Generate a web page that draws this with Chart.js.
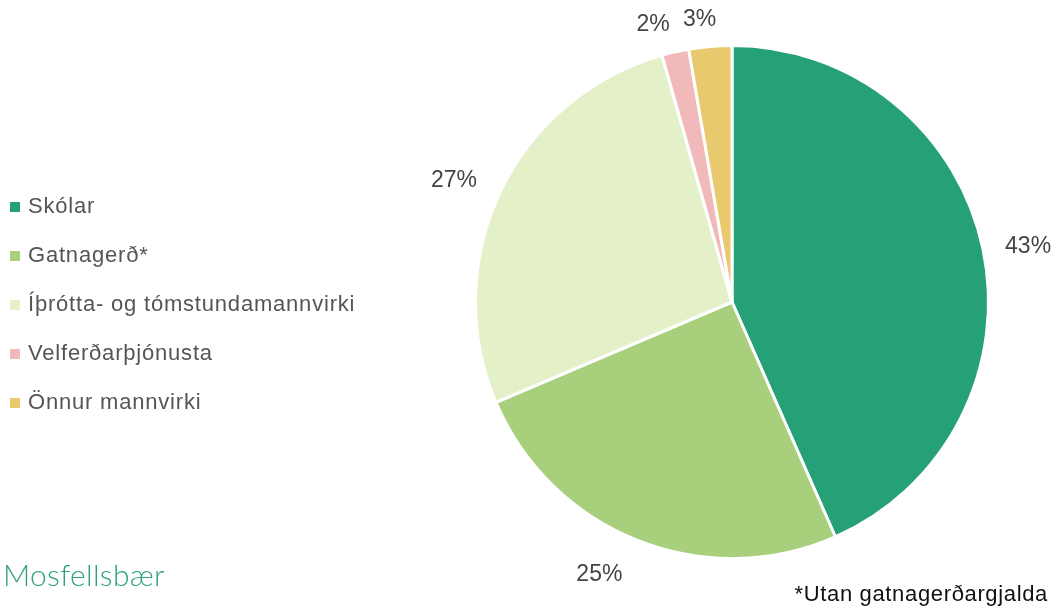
<!DOCTYPE html>
<html>
<head>
<meta charset="utf-8">
<script src="https://cdn.jsdelivr.net/npm/chart.js@4"></script>
<style>
  html, body { margin:0; padding:0; background:#fff; }
  #wrap { position:relative; width:1056px; height:608px; overflow:hidden; }
  canvas { position:absolute; left:0; top:0; }
  #legend { position:absolute; left:10px; top:194px; font-family:"Liberation Sans", Arial, sans-serif; font-size:22px; color:#555; }
  .item { position:relative; height:49px; line-height:24px; white-space:nowrap; }
  .box { position:absolute; left:0; top:8px; width:10px; height:10px; }
  .txt { position:absolute; left:18px; top:0; letter-spacing:0.8px; }
  #logo { position:absolute; left:3px; top:556px; font-family:Lato, sans-serif; font-weight:300; font-size:30px; color:#2ea37a; line-height:36px; letter-spacing:0.3px; }
  #note { position:absolute; right:8px; top:581px; font-family:"Liberation Sans", Arial, sans-serif; font-size:22px; color:#111; line-height:26px; letter-spacing:0.65px; }
</style>
</head>
<body>
<div id="wrap">
  <canvas id="c" width="1056" height="608"></canvas>
  <div id="legend"></div>
  <div id="logo">Mosfellsbær</div>
  <div id="note">*Utan gatnagerðargjalda</div>
</div>
<script>
const categories = ["Skólar", "Gatnagerð*", "Íþrótta- og tómstundamannvirki", "Velferðarþjónusta", "Önnur mannvirki"];
const shares = [43.4, 25.2, 27.0, 1.7, 2.7];
const colors = ["#25a077", "#a8cf7c", "#e4f0c8", "#f1b9b9", "#e9c96e"];

// HTML legend built from the arrays
const legend = document.getElementById('legend');
categories.forEach((c, i) => {
  const d = document.createElement('div');
  d.className = 'item';
  d.innerHTML = '<span class="box" style="background:' + colors[i] + '"></span><span class="txt"></span>';
  d.querySelector('.txt').textContent = c;
  legend.appendChild(d);
});

const pctLabels = {
  id: 'pctLabels',
  afterDatasetsDraw(chart, args, opts) {
    const ctx = chart.ctx;
    const meta = chart.getDatasetMeta(0);
    const data = chart.data.datasets[0].data;
    const total = data.reduce((a, b) => a + b, 0);
    ctx.save();
    ctx.font = '23px "Liberation Sans", Arial, sans-serif';
    ctx.fillStyle = '#444';
    ctx.textAlign = 'center';
    ctx.textBaseline = 'middle';
    meta.data.forEach((arc, i) => {
      const p = arc.getProps(['x', 'y', 'startAngle', 'endAngle', 'outerRadius'], true);
      const mid = (p.startAngle + p.endAngle) / 2;
      const frac = data[i] / total;
      const r = p.outerRadius + (frac < 0.05 ? opts.smallGap : opts.gap);
      const nudge = (opts.nudge && opts.nudge[i]) || [0, 0];
      const x = p.x + Math.cos(mid) * r + nudge[0];
      const y = p.y + Math.sin(mid) * r + nudge[1];
      ctx.fillText(Math.round(frac * 100) + '%', x, y);
    });
    ctx.restore();
  }
};

new Chart(document.getElementById('c'), {
  type: 'pie',
  data: {
    labels: categories,
    datasets: [{
      data: shares,
      backgroundColor: colors,
      borderColor: '#ffffff',
      borderWidth: 3
    }]
  },
  options: {
    responsive: false,
    animation: false,
    layout: { padding: { left: 474, right: 66, top: 44, bottom: 48 } },
    plugins: {
      legend: { display: false },
      tooltip: { enabled: false },
      pctLabels: { gap: 44, smallGap: 32, nudge: { 0: [2, 7], 1: [-22, -7], 2: [-7, 8], 3: [-15, 4], 4: [-8, 5] } }
    }
  },
  plugins: [pctLabels]
});
</script>
</body>
</html>
